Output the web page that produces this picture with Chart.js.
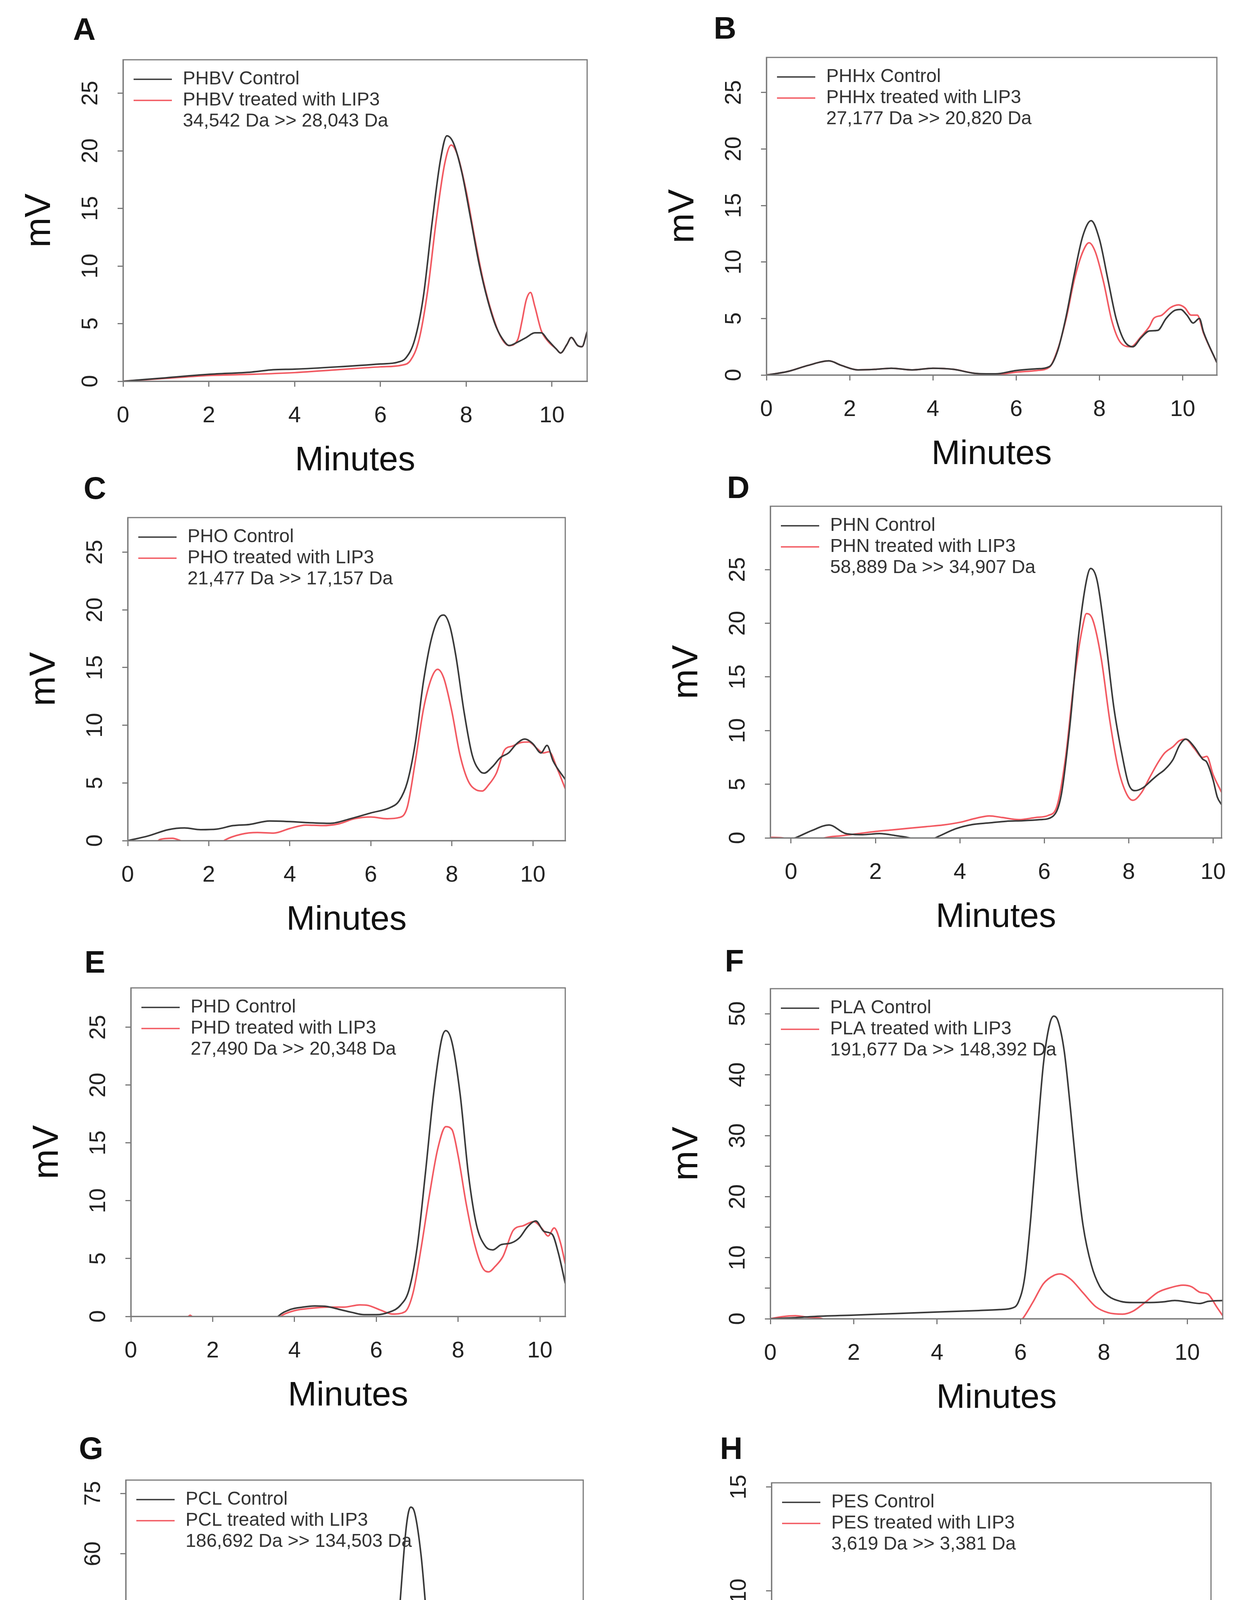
<!DOCTYPE html>
<html>
<head>
<meta charset="utf-8">
<script src="https://cdn.jsdelivr.net/npm/chart.js@4.4.1/dist/chart.umd.min.js"></script>
<style>
  body { margin: 0; background: #fff; }
  #page { position: relative; width: 3164px; height: 4855px; background: #fff; overflow: hidden; }
  canvas { position: absolute; }
  .tag { position: absolute; font: bold 80px "Liberation Sans", Arial, sans-serif; color: #111;
         line-height: 1; transform: translate(-50%, -50%); }
</style>
</head>
<body>
<div id="page"></div>
<script>
// PHBV
var phbvCtrlT = [0, 1, 2, 3, 3.5, 4, 5, 6, 6.4, 6.6, 6.8, 7.0, 7.2, 7.4, 7.55, 7.7, 7.9, 8.1, 8.3, 8.5, 8.7, 8.9, 9.0, 9.2, 9.4, 9.6, 9.75, 9.9, 10.1, 10.2, 10.35, 10.45, 10.6, 10.7, 10.82];
var phbvCtrlMv = [0, 0.3, 0.6, 0.8, 1.0, 1.05, 1.25, 1.5, 1.65, 2.05, 3.6, 7.3, 13.6, 19.2, 21.3, 20.7, 18.1, 14.2, 10.2, 7.05, 4.7, 3.4, 3.1, 3.4, 3.8, 4.2, 4.2, 3.6, 2.8, 2.45, 3.2, 3.8, 3.1, 3.0, 4.3];
var phbvLipT = [0, 1, 2, 3, 4, 5, 6, 6.5, 6.7, 6.9, 7.1, 7.3, 7.5, 7.65, 7.8, 8.0, 8.2, 8.4, 8.6, 8.8, 9.0, 9.2, 9.3, 9.4, 9.5, 9.6, 9.75, 9.9, 10.1, 10.2, 10.35, 10.45, 10.6, 10.7, 10.82];
var phbvLipMv = [0, 0.25, 0.5, 0.6, 0.75, 1.0, 1.25, 1.4, 1.8, 3.6, 7.8, 13.9, 18.9, 20.5, 19.6, 16.5, 12.4, 8.7, 5.9, 3.9, 3.1, 3.6, 5.2, 7.05, 7.7, 6.5, 4.4, 3.5, 2.8, 2.45, 3.2, 3.8, 3.1, 3.0, 4.3];

// PHHx
var phhxCtrlT = [0, 0.5, 1.0, 1.5, 1.8, 2.2, 2.6, 3.0, 3.5, 4.0, 4.5, 5.0, 5.5, 6.0, 6.5, 6.8, 7.0, 7.2, 7.4, 7.6, 7.8, 8.0, 8.2, 8.4, 8.6, 8.8, 9.0, 9.2, 9.4, 9.6, 9.8, 9.95, 10.1, 10.25, 10.4, 10.5, 10.82];
var phhxCtrlMv = [0, 0.3, 0.85, 1.25, 0.85, 0.45, 0.5, 0.6, 0.45, 0.6, 0.5, 0.15, 0.1, 0.4, 0.55, 0.75, 2.2, 5.2, 9.0, 12.3, 13.65, 12.0, 8.5, 5.0, 3.0, 2.5, 3.3, 3.9, 3.95, 5.0, 5.7, 5.8, 5.3, 4.6, 5.0, 3.8, 1.1];
var phhxLipT = [0, 0.5, 1.0, 1.5, 1.8, 2.2, 2.6, 3.0, 3.5, 4.0, 4.5, 5.0, 5.5, 6.0, 6.5, 6.8, 7.0, 7.2, 7.4, 7.6, 7.75, 7.9, 8.1, 8.3, 8.5, 8.75, 9.0, 9.2, 9.3, 9.5, 9.7, 9.9, 10.05, 10.2, 10.35, 10.5, 10.82];
var phhxLipMv = [0, 0.3, 0.85, 1.25, 0.85, 0.45, 0.5, 0.6, 0.45, 0.6, 0.5, 0.15, 0.05, 0.25, 0.4, 0.7, 2.3, 5.0, 8.5, 10.9, 11.7, 10.9, 8.2, 4.75, 2.9, 2.5, 3.4, 4.3, 5.0, 5.3, 5.95, 6.2, 5.95, 5.3, 5.3, 3.7, 1.1];

// PHO
var phoCtrlT = [0, 0.5, 1.0, 1.4, 1.8, 2.2, 2.6, 3.0, 3.5, 4.0, 4.5, 5.0, 5.5, 6.0, 6.5, 6.7, 6.9, 7.1, 7.3, 7.5, 7.7, 7.8, 7.95, 8.1, 8.3, 8.5, 8.7, 8.8, 9.0, 9.2, 9.4, 9.6, 9.8, 10.0, 10.2, 10.35, 10.5, 10.8];
var phoCtrlMv = [0, 0.4, 0.95, 1.1, 0.95, 1.0, 1.3, 1.4, 1.7, 1.65, 1.55, 1.5, 1.9, 2.4, 2.9, 3.45, 5.05, 8.5, 13.8, 17.55, 19.4, 19.55, 18.6, 16.0, 11.2, 7.45, 6.0, 5.85, 6.4, 7.2, 7.6, 8.4, 8.8, 8.4, 7.6, 8.25, 6.9, 5.3];
var phoLipT = [0, 0.6, 0.8, 1.1, 1.3, 1.6, 2.2, 2.4, 2.8, 3.2, 3.6, 4.0, 4.4, 4.8, 5.2, 5.6, 6.0, 6.4, 6.7, 6.9, 7.1, 7.3, 7.5, 7.65, 7.8, 8.0, 8.2, 8.4, 8.6, 8.75, 8.9, 9.1, 9.3, 9.5, 9.7, 9.9, 10.1, 10.25, 10.4, 10.6, 10.8];
var phoLipMv = [-0.5, -0.5, 0.1, 0.2, 0, -0.5, -0.5, 0.05, 0.55, 0.7, 0.65, 1.05, 1.35, 1.3, 1.45, 1.9, 2.05, 1.9, 2.0, 2.9, 6.9, 11.4, 14.1, 14.85, 14.1, 11.2, 7.45, 5.2, 4.4, 4.3, 4.8, 5.85, 7.85, 8.2, 8.5, 8.55, 8.0, 7.6, 7.7, 6.25, 4.5];

// PHN
var phnCtrlT = [-0.49, -0.3, 0.1, 0.5, 0.9, 1.3, 1.7, 2.1, 2.5, 2.8, 3.1, 3.5, 3.9, 4.3, 4.7, 5.1, 5.5, 5.9, 6.2, 6.4, 6.6, 6.8, 7.0, 7.1, 7.25, 7.45, 7.65, 7.85, 8.0, 8.15, 8.35, 8.55, 8.7, 8.85, 9.05, 9.2, 9.35, 9.55, 9.75, 9.85, 10.0, 10.1, 10.2];
var phnCtrlMv = [-0.5, -0.5, 0, 0.7, 1.2, 0.4, 0.3, 0.4, 0.2, 0, -0.5, 0.15, 0.85, 1.25, 1.4, 1.55, 1.6, 1.7, 2.0, 3.95, 10.2, 18.4, 24.0, 25.1, 24.0, 18.6, 12.1, 7.6, 5.0, 4.4, 4.7, 5.4, 5.9, 6.35, 7.3, 8.6, 9.2, 8.5, 7.35, 7.05, 5.4, 3.8, 3.1];
var phnLipT = [-0.49, -0.2, 0.1, 0.5, 0.8, 1.2, 1.6, 2.0, 2.4, 2.8, 3.2, 3.6, 4.0, 4.4, 4.7, 5.0, 5.4, 5.8, 6.1, 6.3, 6.5, 6.7, 6.9, 7.0, 7.15, 7.35, 7.55, 7.75, 7.95, 8.1, 8.3, 8.5, 8.7, 8.85, 9.05, 9.2, 9.35, 9.55, 9.75, 9.85, 10.0, 10.2];
var phnLipMv = [0.05, 0, -0.5, -0.5, 0, 0.2, 0.4, 0.6, 0.75, 0.9, 1.05, 1.2, 1.45, 1.85, 2.05, 1.9, 1.7, 1.9, 2.1, 2.95, 7.35, 14.4, 19.5, 20.9, 20.3, 16.7, 11.0, 6.5, 4.1, 3.5, 4.2, 5.65, 7.05, 7.9, 8.5, 9.05, 9.2, 8.35, 7.5, 7.6, 5.9, 4.25];

// PHD
var phdCtrlT = [0, 0.3, 3.5, 3.6, 3.9, 4.2, 4.5, 4.8, 5.1, 5.4, 5.7, 6.0, 6.3, 6.6, 6.8, 7.0, 7.2, 7.4, 7.6, 7.7, 7.85, 8.05, 8.25, 8.45, 8.65, 8.85, 9.05, 9.3, 9.5, 9.7, 9.9, 10.1, 10.3, 10.45, 10.62];
var phdCtrlMv = [0, -0.5, -0.5, 0, 0.6, 0.8, 0.9, 0.85, 0.6, 0.35, 0.15, 0.15, 0.35, 1.0, 2.3, 6.0, 12.35, 19.2, 24.0, 24.7, 23.7, 19.2, 12.35, 7.9, 6.15, 5.75, 6.2, 6.35, 6.8, 7.75, 8.25, 7.35, 7.1, 5.5, 2.85];
var phdLipT = [0, 0.3, 1.3, 1.45, 1.6, 3.5, 3.7, 4.0, 4.4, 4.8, 5.2, 5.6, 5.8, 6.1, 6.4, 6.7, 6.9, 7.1, 7.3, 7.5, 7.7, 7.85, 8.0, 8.2, 8.4, 8.6, 8.75, 8.9, 9.1, 9.35, 9.6, 9.85, 10.05, 10.2, 10.35, 10.5, 10.62];
var phdLipMv = [0, -0.5, -0.5, 0.1, -0.5, -0.5, 0.1, 0.5, 0.7, 0.8, 0.8, 1.0, 0.95, 0.55, 0.2, 0.4, 2.05, 6.0, 10.5, 14.45, 16.4, 16.15, 13.9, 9.7, 6.3, 4.2, 3.85, 4.3, 5.2, 7.45, 7.85, 8.2, 7.6, 6.95, 7.65, 6.4, 4.55];

// PLA
var plaCtrlT = [0, 0.5, 1, 2, 3, 4, 5, 5.5, 5.8, 5.95, 6.1, 6.25, 6.4, 6.55, 6.7, 6.8, 6.9, 7.05, 7.2, 7.35, 7.5, 7.7, 7.9, 8.1, 8.4, 8.7, 9.0, 9.4, 9.7, 10.0, 10.3, 10.5, 10.85];
var plaCtrlMv = [0, 0.15, 0.35, 0.6, 0.85, 1.1, 1.35, 1.5, 1.75, 2.75, 6.75, 16.8, 29.8, 41.8, 48.3, 49.6, 48.8, 43.8, 34.3, 23.8, 15.3, 8.8, 5.3, 3.75, 2.85, 2.65, 2.65, 2.75, 3.0, 2.75, 2.5, 2.85, 3.0];
var plaLipT = [0, 0.3, 0.6, 0.9, 1.2, 1.6, 5.9, 6.05, 6.3, 6.55, 6.8, 6.95, 7.2, 7.5, 7.8, 8.1, 8.45, 8.7, 9.0, 9.3, 9.6, 9.9, 10.1, 10.3, 10.5, 10.7, 10.85];
var plaLipMv = [0, 0.35, 0.5, 0.25, 0.1, -1, -1, 0, 2.75, 5.75, 7.1, 7.35, 6.5, 4.25, 2.0, 1.0, 0.75, 1.25, 2.75, 4.35, 5.1, 5.5, 5.25, 4.35, 4.0, 2.0, 0.5];

// PCL
var pclCtrlT = [0, 0.5, 1.0, 1.5, 1.7, 4.7, 4.9, 5.3, 5.7, 5.9, 6.05, 6.2, 6.35, 6.5, 6.65, 6.75, 6.85, 7.0, 7.15, 7.3, 7.5, 7.7, 7.9, 8.1, 8.35, 8.6, 8.85, 9.1, 9.4, 9.7, 9.95, 10.15, 10.4, 10.6, 10.84];
var pclCtrlMv = [0, 0.3, 0.3, 0, -2, -2, 0.15, 0.5, 0.9, 1.7, 3.95, 11.55, 26.7, 48.0, 67.0, 71.6, 70.0, 59.4, 41.9, 28.3, 17.6, 11.55, 7.75, 5.85, 4.55, 3.95, 4.35, 5.1, 5.45, 5.6, 6.6, 5.85, 5.3, 3.55, 1.65];
var pclLipT = [0, 0.2, 5.8, 6.0, 6.2, 6.4, 6.6, 6.75, 6.9, 7.1, 7.3, 7.5, 7.8, 8.1, 8.5, 8.8, 9.1, 9.4, 9.7, 10.0, 10.2, 10.45, 10.65, 10.84];
var pclLipMv = [0, -2, -2, 0, 2.05, 6.2, 10.0, 11.55, 10.8, 7.0, 3.95, 2.05, 1.05, 0.55, 0.3, 0.45, 2.45, 3.55, 5.1, 5.85, 5.45, 5.25, 3.2, 1.3];

// PES
var pesCtrlT = [0, 6.1, 6.15, 6.4, 6.65, 6.9, 7.1, 7.2, 7.9, 8.0, 8.15, 8.3, 8.5, 8.65, 8.8, 9.0, 9.2, 9.4, 9.5, 9.65, 9.85, 10.05, 10.2, 10.35, 10.5, 10.65, 10.77];
var pesCtrlMv = [-0.5, -0.5, 0, 0.7, 1.08, 0.7, 0.2, -0.3, -0.3, 0, 2.1, 5.0, 7.65, 8.5, 7.95, 5.9, 4.3, 3.2, 2.95, 3.7, 4.7, 5.3, 4.95, 4.65, 3.85, 2.1, 1.2];
var pesLipT = [0, 0.3, 0.55, 0.8, 0.95, 6.3, 6.4, 6.8, 7.2, 7.6, 7.85, 8.0, 8.2, 8.4, 8.6, 8.7, 8.85, 9.05, 9.25, 9.45, 9.6, 9.8, 9.9, 10.1, 10.3, 10.55, 10.65, 10.77];
var pesLipMv = [0, 0.05, 0.15, 0.03, -0.3, -0.3, 0, 0.25, 0.3, 0.3, 0.3, 0.75, 2.65, 4.3, 5.45, 5.65, 5.45, 4.8, 3.85, 3.2, 3.25, 3.15, 2.1, 1.35, 1.15, 1.0, 0.7, 0.6];

var FONT = '"Liberation Sans", Arial, sans-serif';
var CTRL_COLOR = '#3a3a3a';
var LIP_COLOR = '#f25a62';
var AXIS_COLOR = '#7a7a7a';

// box = plot frame [left, top, right, bottom] in page pixels, tagAt = centre of the panel letter
var panels = [
  { tag: 'A', tagAt: [216, 75], name: 'PHBV', ctrl: [phbvCtrlT, phbvCtrlMv], lip: [phbvLipT, phbvLipMv], note: '34,542 Da >> 28,043 Da',
    box: [315, 153, 1503, 976], x: [0, 10.82], y: [0, 27.9], yStep: 5, yLabelStep: 5, yTickMax: 25 },
  { tag: 'B', tagAt: [1856, 72], name: 'PHHx', ctrl: [phhxCtrlT, phhxCtrlMv], lip: [phhxLipT, phhxLipMv], note: '27,177 Da >> 20,820 Da',
    box: [1962, 147, 3115, 960], x: [0, 10.82], y: [0, 28.1], yStep: 5, yLabelStep: 5, yTickMax: 25 },
  { tag: 'C', tagAt: [243, 1250], name: 'PHO', ctrl: [phoCtrlT, phoCtrlMv], lip: [phoLipT, phoLipMv], note: '21,477 Da >> 17,157 Da',
    box: [327, 1325, 1447, 2152], x: [0, 10.8], y: [0, 28], yStep: 5, yLabelStep: 5, yTickMax: 25 },
  { tag: 'D', tagAt: [1890, 1248], name: 'PHN', ctrl: [phnCtrlT, phnCtrlMv], lip: [phnLipT, phnLipMv], note: '58,889 Da >> 34,907 Da',
    box: [1972, 1296, 3127, 2145], x: [-0.49, 10.2], y: [0, 30.9], yStep: 5, yLabelStep: 5, yTickMax: 25 },
  { tag: 'E', tagAt: [243, 2463], name: 'PHD', ctrl: [phdCtrlT, phdCtrlMv], lip: [phdLipT, phdLipMv], note: '27,490 Da >> 20,348 Da',
    box: [335, 2529, 1447, 3370], x: [0, 10.62], y: [0, 28.4], yStep: 5, yLabelStep: 5, yTickMax: 25 },
  { tag: 'F', tagAt: [1880, 2460], name: 'PLA', ctrl: [plaCtrlT, plaCtrlMv], lip: [plaLipT, plaLipMv], note: '191,677 Da >> 148,392 Da',
    box: [1972, 2531, 3130, 3376], x: [0, 10.85], y: [0, 54.1], yStep: 5, yLabelStep: 10, yTickMax: 50 },
  { tag: 'G', tagAt: [233, 3708], name: 'PCL', ctrl: [pclCtrlT, pclCtrlMv], lip: [pclLipT, pclLipMv], note: '186,692 Da >> 134,503 Da',
    box: [322, 3789, 1493, 4597], x: [0, 10.84], y: [0, 78.3], yStep: 15, yLabelStep: 15, yTickMax: 75 },
  { tag: 'H', tagAt: [1872, 3708], name: 'PES', ctrl: [pesCtrlT, pesCtrlMv], lip: [pesLipT, pesLipMv], note: '3,619 Da >> 3,381 Da',
    box: [1975, 3796, 3100, 4605], x: [0, 10.77], y: [0, 15.2], yStep: 5, yLabelStep: 5, yTickMax: 15 }
];

var Y_AXIS_W = 290;   // room left of the frame for "mV" and tick labels
var X_AXIS_H = 248;   // room under the frame for tick labels and "Minutes"
var PAD_TOP = 20;
var PAD_RIGHT = 25;

function toPoints(t, mv) {
  return t.map(function (v, i) { return { x: v, y: mv[i] }; });
}

// frame, R-style rotated y labels and the legend inside the frame
var framePlugin = {
  id: 'frame',
  afterDatasetsDraw: function (chart, args, o) {
    var ctx = chart.ctx, a = chart.chartArea, y = chart.scales.y;
    ctx.save();
    ctx.strokeStyle = AXIS_COLOR;
    ctx.lineWidth = 3;
    ctx.strokeRect(a.left, a.top, a.right - a.left, a.bottom - a.top);

    ctx.fillStyle = '#222';
    ctx.font = '57px ' + FONT;
    ctx.textAlign = 'center';
    ctx.textBaseline = 'middle';
    y.ticks.forEach(function (t) {
      if (Math.round(t.value) % o.labelStep !== 0) return;
      ctx.save();
      ctx.translate(a.left - 82, y.getPixelForValue(t.value));
      ctx.rotate(-Math.PI / 2);
      ctx.fillText(String(t.value), 0, 0);
      ctx.restore();
    });

    ctx.font = '48px ' + FONT;
    ctx.textAlign = 'left';
    ctx.fillStyle = '#333';
    var rows = [[o.names[0], CTRL_COLOR], [o.names[1], LIP_COLOR], [o.note, null]];
    rows.forEach(function (r, i) {
      var ly = a.top + 50 + i * 54;
      if (r[1]) {
        ctx.strokeStyle = r[1];
        ctx.lineWidth = 3.5;
        ctx.beginPath();
        ctx.moveTo(a.left + 27, ly);
        ctx.lineTo(a.left + 125, ly);
        ctx.stroke();
      }
      ctx.fillText(r[0], a.left + 153, ly);
    });
    ctx.restore();
  }
};

var page = document.getElementById('page');

panels.forEach(function (p) {
  var L = p.box[0], T = p.box[1], R = p.box[2], B = p.box[3];
  var cv = document.createElement('canvas');
  cv.width = Y_AXIS_W + (R - L) + PAD_RIGHT;
  cv.height = PAD_TOP + (B - T) + X_AXIS_H;
  cv.style.left = (L - Y_AXIS_W) + 'px';
  cv.style.top = (T - PAD_TOP) + 'px';
  page.appendChild(cv);

  var tag = document.createElement('div');
  tag.className = 'tag';
  tag.textContent = p.tag;
  tag.style.left = p.tagAt[0] + 'px';
  tag.style.top = p.tagAt[1] + 'px';
  page.appendChild(tag);

  new Chart(cv.getContext('2d'), {
    type: 'line',
    data: {
      datasets: [{
        label: p.name + ' Control',
        data: toPoints(p.ctrl[0], p.ctrl[1]),
        borderColor: CTRL_COLOR,
        borderWidth: 4,
        pointRadius: 0,
        cubicInterpolationMode: 'monotone'
      }, {
        label: p.name + ' treated with LIP3',
        data: toPoints(p.lip[0], p.lip[1]),
        borderColor: LIP_COLOR,
        borderWidth: 4,
        pointRadius: 0,
        cubicInterpolationMode: 'monotone'
      }]
    },
    options: {
      responsive: false,
      animation: false,
      devicePixelRatio: 1,
      layout: { padding: { top: PAD_TOP, right: PAD_RIGHT, left: 0, bottom: 0 } },
      plugins: {
        legend: { display: false },
        tooltip: { enabled: false },
        frame: { labelStep: p.yLabelStep, names: [p.name + ' Control', p.name + ' treated with LIP3'], note: p.note }
      },
      scales: {
        x: {
          type: 'linear',
          min: p.x[0],
          max: p.x[1],
          grid: { drawOnChartArea: false, drawTicks: true, tickLength: 14, color: AXIS_COLOR, lineWidth: 3 },
          border: { display: true, color: AXIS_COLOR, width: 3 },
          ticks: {
            stepSize: 2, includeBounds: false, autoSkip: false, maxRotation: 0,
            padding: 46, color: '#222', font: { family: FONT, size: 58, lineHeight: 1 }
          },
          title: { display: true, text: 'Minutes', color: '#111', padding: { top: 0, bottom: 0 },
                   font: { family: FONT, size: 88, lineHeight: 1 } },
          afterFit: function (s) {
            s.height = X_AXIS_H;
            s.paddingLeft = 0; s.paddingRight = 0; s.paddingTop = 0; s.paddingBottom = 0;
          }
        },
        y: {
          type: 'linear',
          min: p.y[0],
          max: p.y[1],
          grid: { drawOnChartArea: false, drawTicks: true, tickLength: 14, color: AXIS_COLOR, lineWidth: 3 },
          border: { display: true, color: AXIS_COLOR, width: 3 },
          ticks: { stepSize: p.yStep, includeBounds: false, display: false },
          afterBuildTicks: function (s) {
            s.ticks = s.ticks.filter(function (t) { return t.value <= p.yTickMax; });
          },
          title: { display: true, text: 'mV', color: '#111', padding: { top: Y_AXIS_W - 212 - 46, bottom: 0 },
                   font: { family: FONT, size: 92, lineHeight: 1 } },
          afterFit: function (s) {
            s.width = Y_AXIS_W;
            s.paddingLeft = 0; s.paddingRight = 0; s.paddingTop = 0; s.paddingBottom = 0;
          }
        }
      }
    },
    plugins: [framePlugin]
  });
});
</script>
</body>
</html>
